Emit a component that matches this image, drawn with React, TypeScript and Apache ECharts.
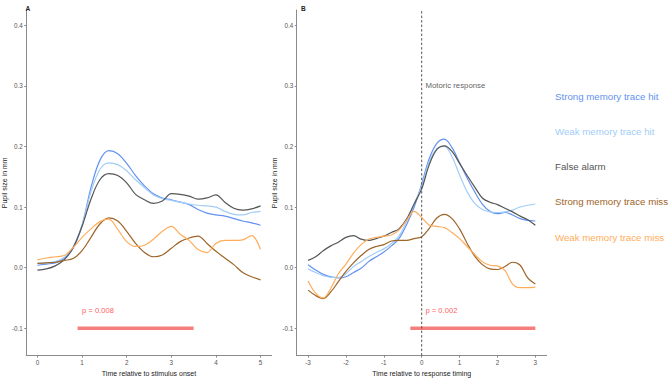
import React, { useEffect, useRef } from "react";
import * as echarts from "echarts";

// ---------- data ----------
const timeOnset = [0, 0.2, 0.4, 0.6, 0.8, 1.0, 1.2, 1.4, 1.6, 1.8, 2.0, 2.2, 2.4, 2.6, 2.8, 3.0, 3.2, 3.4, 3.6, 3.8, 4.0, 4.2, 4.4, 4.6, 4.8, 5.0];
const onsetStrongHit = [0.004, 0.006, 0.008, 0.015, 0.032, 0.07, 0.132, 0.177, 0.193, 0.188, 0.172, 0.152, 0.135, 0.122, 0.115, 0.112, 0.108, 0.104, 0.096, 0.09, 0.087, 0.085, 0.081, 0.077, 0.074, 0.07];
const onsetWeakHit = [0.007, 0.008, 0.01, 0.017, 0.034, 0.07, 0.125, 0.162, 0.173, 0.17, 0.16, 0.145, 0.132, 0.12, 0.114, 0.111, 0.108, 0.105, 0.103, 0.102, 0.1, 0.093, 0.088, 0.087, 0.091, 0.093];
const onsetFalseAlarm = [-0.004, -0.002, 0.003, 0.013, 0.033, 0.068, 0.113, 0.145, 0.155, 0.152, 0.14, 0.121, 0.112, 0.106, 0.11, 0.122, 0.121, 0.118, 0.113, 0.115, 0.12, 0.108, 0.098, 0.095, 0.097, 0.102];
const onsetStrongMiss = [0.007, 0.008, 0.009, 0.012, 0.015, 0.028, 0.05, 0.072, 0.082, 0.077, 0.06, 0.04, 0.025, 0.018, 0.021, 0.032, 0.043, 0.049, 0.052, 0.04, 0.027, 0.016, 0.005, -0.008, -0.015, -0.02];
const onsetWeakMiss = [0.013, 0.016, 0.018, 0.02, 0.033, 0.05, 0.064, 0.076, 0.08, 0.063, 0.043, 0.035, 0.037, 0.047, 0.06, 0.068, 0.055, 0.045, 0.03, 0.025, 0.04, 0.045, 0.045, 0.046, 0.053, 0.03];

const timeResponse = [-3.0, -2.8, -2.6, -2.4, -2.2, -2.0, -1.8, -1.6, -1.4, -1.2, -1.0, -0.8, -0.6, -0.4, -0.2, 0.0, 0.2, 0.4, 0.6, 0.8, 1.0, 1.2, 1.4, 1.6, 1.8, 2.0, 2.2, 2.4, 2.6, 2.8, 3.0];
const respStrongHit = [0.005, -0.004, -0.011, -0.015, -0.017, -0.015, -0.008, -0.001, 0.01, 0.018, 0.026, 0.036, 0.048, 0.071, 0.1, 0.138, 0.18, 0.205, 0.212, 0.198, 0.173, 0.148, 0.125, 0.105, 0.093, 0.089, 0.091, 0.087, 0.081, 0.078, 0.077];
const respWeakHit = [-0.002, -0.008, -0.013, -0.016, -0.016, -0.01, 0.002, 0.01, 0.018, 0.025, 0.031, 0.04, 0.052, 0.076, 0.105, 0.135, 0.175, 0.196, 0.2, 0.183, 0.153, 0.125, 0.106, 0.096, 0.092, 0.091, 0.092, 0.095, 0.1, 0.103, 0.105];
const respFalseAlarm = [0.012, 0.018, 0.028, 0.036, 0.042, 0.05, 0.053, 0.047, 0.045, 0.048, 0.052, 0.058, 0.064, 0.08, 0.105, 0.13, 0.17, 0.195, 0.201, 0.192, 0.172, 0.152, 0.133, 0.115, 0.108, 0.104, 0.098, 0.092, 0.085, 0.079, 0.07];
const respStrongMiss = [-0.037, -0.046, -0.051, -0.04, -0.023, -0.006, 0.008, 0.02, 0.03, 0.035, 0.038, 0.044, 0.045, 0.045, 0.048, 0.051, 0.065, 0.082, 0.088, 0.081, 0.064, 0.04, 0.019, 0.005, -0.002, -0.003, 0.002, 0.009, 0.004, -0.017, -0.027];
const respWeakMiss = [-0.022, -0.042, -0.05, -0.034, -0.01, 0.006, 0.024, 0.038, 0.047, 0.05, 0.052, 0.054, 0.062, 0.078, 0.093, 0.083, 0.07, 0.068, 0.066, 0.058, 0.048, 0.035, 0.022, 0.01, 0.004, 0.003, -0.005, -0.027, -0.033, -0.033, -0.032];

const seriesNames = ["Strong memory trace hit", "Weak memory trace hit", "False alarm", "Strong memory trace miss", "Weak memory trace miss"];
const seriesColors = ["#6392F0", "#A2CDF8", "#555555", "#9E6428", "#FFAD5C"];

const yTicks = [-0.1, 0.0, 0.1, 0.2, 0.3, 0.4];
const xTicksOnset = [0, 1, 2, 3, 4, 5];
const xTicksResponse = [-3, -2, -1, 0, 1, 2, 3];

const sigOnset = [0.9, 3.5];
const sigResponse = [-0.3, 3.0];
const sigLevel = -0.1;
const pOnset = "p = 0.008";
const pResponse = "p = 0.002";
const pLabelPosOnset = [1.0, -0.07];
const pLabelPosResponse = [0.1, -0.07];
const motoricLabel = "Motoric response";
const motoricLabelPos = [0.1, 0.3];
const responseMarker = 0;

const yMin = -0.145;
const yMax = 0.425;

// ---------- chart ----------
const FONT = "Liberation Sans";

function zip(t: number[], v: number[]) {
  return t.map((x, i) => [x, v[i]]);
}

export default function App() {
  const ref = useRef<HTMLDivElement>(null);

  useEffect(() => {
    if (!ref.current) return;
    const chart = echarts.init(ref.current, undefined, { renderer: "svg" });

    const axisLineStyle = { color: "#8a8a8a", width: 1 };
    const makeX = (gridIndex: number, min: number, max: number, ticks: number[], name: string) => ({
      type: "value",
      gridIndex,
      min,
      max,
      splitLine: { show: false },
      axisLine: { show: true, onZero: false, lineStyle: axisLineStyle },
      axisTick: { show: true, length: 2, customValues: ticks, lineStyle: axisLineStyle },
      axisLabel: { customValues: ticks, margin: 3.5, fontSize: 6.3, color: "#555", fontFamily: FONT, formatter: (v: number) => String(v) },
      name,
      nameLocation: "middle",
      nameGap: 8.5,
      nameTextStyle: { fontSize: 7, color: "#222", fontFamily: FONT },
    });
    const makeY = (gridIndex: number) => ({
      type: "value",
      gridIndex,
      min: yMin,
      max: yMax,
      splitLine: { show: false },
      axisLine: { show: true, onZero: false, lineStyle: axisLineStyle },
      axisTick: { show: true, length: 2, customValues: yTicks, lineStyle: axisLineStyle },
      axisLabel: { customValues: yTicks, margin: 3.5, fontSize: 6.3, color: "#555", fontFamily: FONT, formatter: (v: number) => v.toFixed(1) },
      name: "Pupil size in mm",
      nameLocation: "middle",
      nameGap: 14,
      nameTextStyle: { fontSize: 7, color: "#222", fontFamily: FONT },
    });

    const onsetData = [onsetStrongHit, onsetWeakHit, onsetFalseAlarm, onsetStrongMiss, onsetWeakMiss];
    const respData = [respStrongHit, respWeakHit, respFalseAlarm, respStrongMiss, respWeakMiss];

    const lineSeries: any[] = [];
    seriesNames.forEach((name, i) => {
      lineSeries.push({
        type: "line",
        name,
        xAxisIndex: 0,
        yAxisIndex: 0,
        data: zip(timeOnset, onsetData[i]),
        showSymbol: false,
        symbol: "none",
        smooth: 0.35,
        lineStyle: { color: seriesColors[i], width: 1.2 },
        itemStyle: { color: seriesColors[i] },
        z: 3,
      });
      lineSeries.push({
        type: "line",
        name,
        xAxisIndex: 1,
        yAxisIndex: 1,
        data: zip(timeResponse, respData[i]),
        showSymbol: false,
        symbol: "none",
        smooth: 0.35,
        lineStyle: { color: seriesColors[i], width: 1.2 },
        itemStyle: { color: seriesColors[i] },
        z: 3,
      });
    });

    const sigBar = (axis: number, range: number[]) => ({
      type: "line",
      xAxisIndex: axis,
      yAxisIndex: axis,
      data: [[range[0], sigLevel], [range[1], sigLevel]],
      symbol: "none",
      lineStyle: { color: "#F47F7C", width: 3.5, cap: "butt" },
      silent: true,
      z: 2,
    });
    const textPoint = (axis: number, pos: number[], text: string, color: string, size: number) => ({
      type: "scatter",
      xAxisIndex: axis,
      yAxisIndex: axis,
      data: [pos],
      symbolSize: 0.01,
      silent: true,
      label: {
        show: true,
        position: "right",
        distance: 0,
        formatter: () => text,
        color,
        fontSize: size,
        fontFamily: FONT,
      },
      z: 4,
    });

    const option: any = {
      animation: false,
      backgroundColor: "#ffffff",
      textStyle: { fontFamily: FONT },
      title: [
        { text: "A", left: 20.5, top: 0, textStyle: { fontSize: 6.5, fontWeight: "bold", color: "#222", fontFamily: FONT } },
        { text: "B", left: 296, top: 0, textStyle: { fontSize: 6.5, fontWeight: "bold", color: "#222", fontFamily: FONT } },
      ],
      legend: {
        orient: "vertical",
        left: 545,
        top: 86,
        icon: "none",
        itemWidth: 0,
        itemHeight: 10,
        itemGap: 25.3,
        selectedMode: false,
        data: seriesNames.map((n, i) => ({ name: n, textStyle: { color: seriesColors[i], fontFamily: FONT, fontSize: 9.7 } })),
        textStyle: { fontSize: 9.7, fontFamily: FONT },
      },
      grid: [
        { left: 22, top: 10, width: 249.7, height: 354.3 },
        { left: 296.7, top: 10, width: 250, height: 354.3 },
      ],
      xAxis: [
        makeX(0, -0.25, 5.25, xTicksOnset, "Time relative to stimulus onset"),
        makeX(1, -3.3, 3.3, xTicksResponse, "Time relative to response timing"),
      ],
      yAxis: [makeY(0), makeY(1)],
      series: [
        ...lineSeries,
        sigBar(0, sigOnset),
        sigBar(1, sigResponse),
        {
          type: "line",
          xAxisIndex: 1,
          yAxisIndex: 1,
          data: [[responseMarker, yMin], [responseMarker, yMax]],
          symbol: "none",
          lineStyle: { color: "#555", width: 1, type: [2.5, 2] },
          silent: true,
          z: 5,
        },
        textPoint(0, pLabelPosOnset, pOnset, "#FF2A2A", 7.6),
        textPoint(1, pLabelPosResponse, pResponse, "#FF2A2A", 7.6),
        textPoint(1, motoricLabelPos, motoricLabel, "#333", 7.8),
      ],
    };
    chart.setOption(option);
    return () => chart.dispose();
  }, []);

  return <div ref={ref} style={{ position: "absolute", left: 0, top: 0, width: 669, height: 382 }} />;
}
